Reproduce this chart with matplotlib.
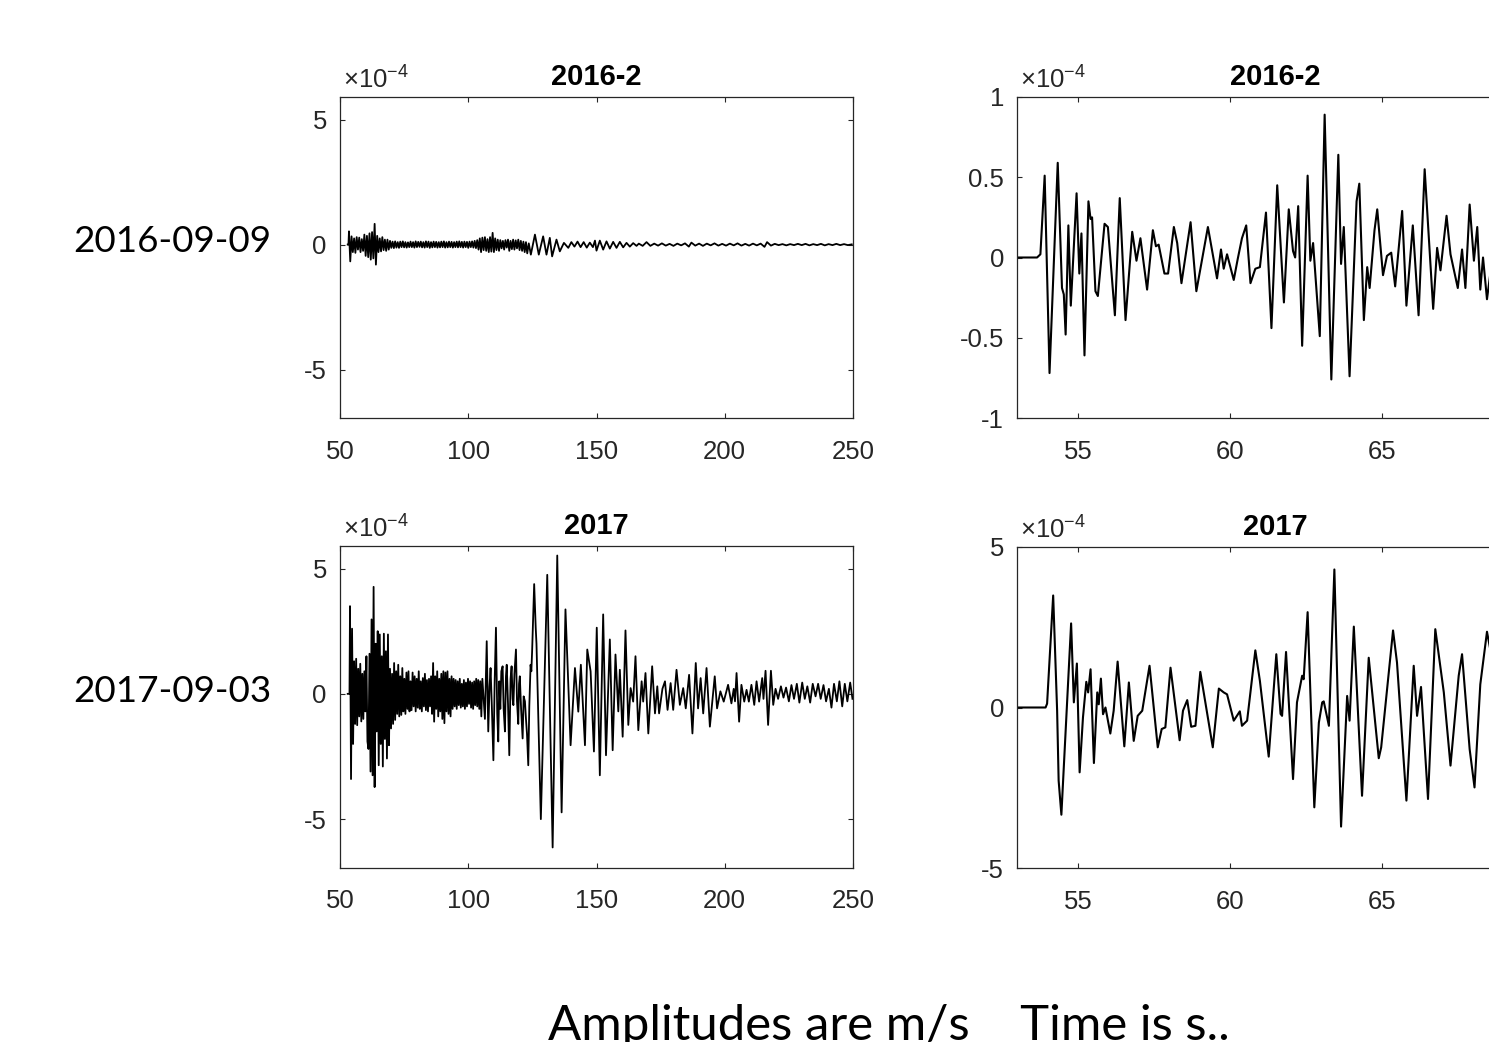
import numpy as np
import matplotlib
matplotlib.use('Agg')
import matplotlib.pyplot as plt
from matplotlib.ticker import FuncFormatter

# ---------------- data (amplitude in 1e-4 m/s, time in s) ----------------
row_labels = ["2016-09-09", "2017-09-03"]
titles = ["2016-2", "2017"]
footer = "Amplitudes are m/s    Time is s.."

# 2016-09-09, whole record: evenly sampled dense part (0.5 s from 53.5 s)
w16_dense_t0 = 53.5
w16_dense_dt = 0.5
w16_dense = [
    0.53, -0.67, 0.33, -0.30, 0.25, -0.33, 0.30, -0.20, 0.28, -0.30,
    0.22, -0.25, 0.40, -0.45, 0.35, -0.50, 0.45, -0.60, 0.50, -0.55,
    0.83, -0.80, 0.35, -0.30, 0.25, -0.27, 0.30, -0.22, 0.20, -0.25,
    0.20, -0.20, 0.15, -0.13, 0.12, -0.14, 0.13, -0.12, 0.10, -0.13,
    0.12, -0.10, 0.13, -0.11, 0.10, -0.12, 0.09, -0.10, 0.12, -0.10,
    0.10, -0.12, 0.13, -0.10, 0.11, -0.09, 0.12, -0.11, 0.10, -0.12,
    0.13, -0.10, 0.12, -0.13, 0.10, -0.11, 0.12, -0.10, 0.11, -0.12,
    0.10, -0.11, 0.12, -0.10, 0.13, -0.12, 0.10, -0.11, 0.12, -0.10,
    0.11, -0.12, 0.10, -0.10, 0.12, -0.11, 0.13, -0.10, 0.11, -0.12,
    0.12, -0.10, 0.11, -0.13, 0.12, -0.10, 0.13, -0.12, 0.15, -0.14,
    0.18, -0.20, 0.25, -0.30, 0.28, -0.22, 0.30, -0.25, 0.22, -0.30,
    0.30, -0.28, 0.47, -0.30, 0.25, -0.22, 0.20, -0.25, 0.18, -0.15,
    0.15, -0.20, 0.18, -0.12, 0.20, -0.25, 0.15, -0.18, 0.20, -0.20,
    0.17, -0.15, 0.20, -0.22, 0.15, -0.25, 0.12, -0.30, 0.10, -0.35,
]
w16_tail_t = [
    123.6, 124.4, 126.0, 127.5, 129.2, 130.5, 131.8, 132.7, 134.4, 135.7,
    137.3, 139.0, 140.2, 141.4, 142.6, 143.8, 145.0, 146.2, 147.4, 148.6,
    149.4, 150.0, 151.3, 152.6, 153.9, 155.2, 156.5, 157.8, 159.1, 160.4,
    161.7, 163.0, 164.3, 165.6, 166.5, 168.0, 169.5, 171.0, 172.5, 174.0,
    175.5, 177.0, 178.5, 180.0, 181.5, 183.0, 184.5, 186.0, 187.0, 188.5,
    190.0, 191.5, 193.0, 194.5, 196.0, 197.5, 199.0, 200.5, 202.0, 203.5,
    205.0, 206.5, 208.0, 209.5, 211.0, 212.5, 214.0, 215.5, 216.5, 218.0,
    219.5, 221.0, 222.5, 224.0, 225.5, 227.0, 228.5, 230.0, 231.5, 233.0,
    234.5, 236.0, 237.5, 239.0, 240.5, 242.0, 243.5, 245.0, 246.5, 248.0,
    249.5,
]
w16_tail_v = [
    0.05, -0.40, 0.40, -0.40, 0.33, -0.40, 0.27, -0.47, 0.20, -0.27,
    0.07, -0.13, 0.10, -0.08, 0.12, -0.10, 0.10, -0.12, 0.08, -0.10,
    0.16, -0.24, 0.16, -0.20, 0.13, -0.16, 0.11, -0.13, 0.11, -0.11,
    0.07, -0.08, 0.06, -0.05, 0.04, -0.05, 0.10, -0.05, 0.04, -0.04,
    0.05, -0.04, 0.03, -0.05, 0.04, -0.03, 0.05, -0.08, 0.08, -0.04,
    0.04, -0.05, 0.04, -0.03, 0.05, -0.04, 0.03, -0.04, 0.04, -0.03,
    0.05, -0.04, 0.03, -0.04, 0.04, -0.03, 0.04, -0.09, 0.10, -0.04,
    0.03, -0.02, 0.02, -0.03, 0.02, -0.02, 0.03, -0.02, 0.03, -0.03,
    0.02, -0.02, 0.03, -0.03, 0.02, -0.02, 0.03, -0.02, 0.02, -0.02,
    0.01,
]

# 2017-09-03, whole record: evenly sampled dense part (0.4 s from 53.9 s)
w17_dense_t0 = 53.9
w17_dense_dt = 0.4
w17_dense = [
    3.50, -3.40, 2.60, -2.00, 1.30, -1.20, 1.40, -1.25, 1.00, -0.90,
    1.20, -1.10, 0.80, -1.00, 0.90, -0.70, 1.50, -1.90, -2.20, 1.60,
    -3.10, 2.97, -3.25, 4.27, -3.72, 2.00, -1.50, 2.50, -2.85, 2.37,
    -2.00, 1.50, -2.90, 2.40, -1.80, 1.70, -2.58, 2.37, -2.05, 1.00,
    -1.38, 0.80, -1.20, 1.23, -1.04, 0.90, -0.80, 1.16, -0.90, 0.70,
    -0.84, 1.03, -0.70, 0.60, -0.80, 0.85, -0.60, 0.90, -0.70, 0.50,
    -0.65, 0.85, -0.50, 0.70, -0.70, 0.60, -0.55, 0.90, -0.60, 0.50,
    -0.70, 0.63, -0.50, 0.80, -0.65, 0.55, -0.70, 0.60, -0.50, 0.70,
    -0.80, 1.23, -1.11, 0.70, -0.60, 0.90, -0.90, 0.60, -0.70, 0.80,
    -1.00, 0.90, -1.17, 0.85, -0.70, 0.90, -0.80, 0.60, -0.90, 0.70,
    -0.60, 0.60, -0.50, 0.55, -0.60, 0.50, -0.45, 0.60, -0.55, 0.40,
    -0.50, 0.55, -0.60, 0.45, -0.50, 0.60, -0.40, 0.50, -0.55, 0.45,
    -0.60, 0.50, -0.45, 0.60, -0.50, 0.55, -0.60, 0.50, -0.90, 0.60,
]
w17_tail_t = [
    106.5, 107.2, 107.8, 108.3, 108.7, 109.2, 109.8, 110.3, 110.8, 111.3,
    111.7, 112.1, 112.5, 112.9, 113.4, 113.8, 114.3, 114.7, 115.0, 115.5,
    116.0, 116.5, 116.9, 117.3, 117.6, 118.0, 118.6, 119.0, 119.5, 119.8,
    120.1, 120.6, 121.2, 121.6, 122.1, 122.5, 122.9, 123.4, 123.8, 124.3,
    124.6, 124.9, 125.7, 126.3, 126.6, 128.3, 130.8, 132.9, 134.7, 136.4,
    137.9, 139.9, 141.6, 142.9, 143.9, 145.5, 146.4, 147.7, 149.0, 150.1,
    151.3, 152.6, 153.7, 155.2, 156.3, 157.4, 158.5, 159.1, 160.2, 161.3,
    162.4, 163.3, 164.3, 165.2, 166.3, 167.6, 168.2, 169.1, 170.2, 171.7,
    172.8, 173.7, 174.4, 175.7, 176.7, 177.7, 178.9, 179.9, 181.2, 182.5,
    183.8, 184.8, 186.1, 187.4, 188.7, 189.6, 190.6, 191.6, 192.9, 194.2,
    196.1, 197.0, 198.3, 199.6, 201.3, 202.6, 203.5, 204.0, 204.6, 205.6,
    206.5, 207.6, 208.5, 209.4, 210.4, 211.5, 212.4, 213.4, 214.6, 215.1,
    215.9, 216.9, 218.0, 218.9, 219.8, 220.8, 221.9, 222.9, 223.9, 225.0,
    226.0, 227.0, 228.1, 229.1, 230.2, 231.2, 232.2, 233.3, 234.3, 235.4,
    236.4, 237.4, 238.5, 239.5, 240.6, 241.6, 242.6, 243.7, 244.7, 245.8,
    246.8, 247.8, 248.9, 249.8,
]
w17_tail_v = [
    -1.00, 2.10, -1.50, 0.30, 1.03, -0.50, -2.65, 0.50, 2.64, -0.80,
    -1.90, 0.50, -0.60, 0.90, 1.10, -0.60, -1.50, 0.70, 1.16, -0.40,
    -2.45, 0.60, 1.10, -0.20, -0.45, 0.80, 1.77, -0.30, -1.20, 0.40,
    0.70, -0.60, -1.78, -0.10, -0.30, -1.00, -1.60, -2.85, -0.50, 1.16,
    0.90, 1.70, 4.38, 2.64, 2.00, -5.00, 4.75, -6.13, 5.52, -4.73,
    3.37, -2.05, 1.03, -0.71, 1.16, -2.05, 1.77, 0.90, -2.30, 2.64,
    -3.25, 3.17, -2.45, 2.17, -2.25, 1.57, -0.70, 0.96, -1.71, 2.53,
    -1.24, 0.23, -0.31, 1.50, -1.45, 0.50, -0.31, 0.83, -1.58, 1.10,
    -0.78, 0.30, -0.78, 0.20, 0.50, -0.64, 0.43, -0.64, 0.96, -0.44,
    0.23, -0.58, 0.76, -1.58, 1.23, -0.58, 0.63, -0.78, 1.03, -1.31,
    0.70, -0.58, 0.10, -0.31, 0.36, -0.38, 0.20, -0.30, 0.83, -1.11,
    0.36, -0.31, 0.16, -0.31, 0.36, -0.44, 0.50, -0.31, 0.63, -0.20,
    0.92, -1.24, 0.92, -0.44, 0.20, -0.20, 0.30, -0.15, 0.25, -0.30,
    0.35, -0.20, 0.40, -0.35, 0.45, -0.20, 0.30, -0.35, 0.40, -0.10,
    0.40, -0.20, 0.35, -0.30, 0.20, -0.55, 0.40, -0.30, 0.50, -0.50,
    0.40, -0.30, 0.45, -0.20,
]

# zoomed windows (53-70 s)
z16_t = [
    53.02, 53.65, 53.76, 53.90, 54.06, 54.33, 54.47, 54.53, 54.59, 54.68,
    54.76, 54.95, 55.04, 55.11, 55.21, 55.34, 55.41, 55.46, 55.57, 55.65,
    55.87, 55.98, 56.21, 56.37, 56.56, 56.78, 56.92, 57.05, 57.27, 57.46,
    57.56, 57.65, 57.84, 57.96, 58.15, 58.26, 58.40, 58.70, 58.89, 59.27,
    59.57, 59.70, 59.79, 59.90, 60.12, 60.25, 60.39, 60.53, 60.67, 60.83,
    60.98, 61.18, 61.36, 61.55, 61.77, 61.93, 62.07, 62.14, 62.24, 62.37,
    62.55, 62.64, 62.73, 62.95, 63.11, 63.33, 63.56, 63.65, 63.74, 63.93,
    64.16, 64.25, 64.40, 64.51, 64.59, 64.75, 64.84, 65.03, 65.16, 65.30,
    65.43, 65.66, 65.80, 66.01, 66.20, 66.40, 66.68, 66.81, 66.92, 67.12,
    67.25, 67.49, 67.63, 67.74, 67.88, 68.02, 68.13, 68.23, 68.32, 68.45,
    68.56,
]
z16_v = [
    0.00, 0.00, 0.02, 0.51, -0.72, 0.59, -0.19, -0.23, -0.48, 0.20,
    -0.30, 0.40, -0.10, 0.15, -0.61, 0.35, 0.24, 0.25, -0.21, -0.24,
    0.21, 0.19, -0.36, 0.37, -0.39, 0.16, -0.02, 0.12, -0.20, 0.17,
    0.07, 0.08, -0.10, -0.10, 0.19, 0.09, -0.16, 0.22, -0.21, 0.19,
    -0.13, 0.05, -0.07, 0.02, -0.14, -0.01, 0.12, 0.20, -0.16, -0.07,
    -0.06, 0.28, -0.44, 0.45, -0.28, 0.30, 0.04, 0.00, 0.32, -0.55,
    0.51, -0.02, 0.09, -0.49, 0.89, -0.76, 0.64, -0.04, 0.19, -0.74,
    0.35, 0.46, -0.39, -0.06, -0.19, 0.17, 0.30, -0.11, 0.01, 0.03,
    -0.18, 0.29, -0.30, 0.20, -0.36, 0.55, -0.32, 0.06, -0.08, 0.26,
    0.02, -0.19, 0.05, -0.19, 0.33, -0.02, 0.19, -0.20, 0.00, -0.26,
    -0.10,
]
z17_t = [
    53.02, 53.93, 53.98, 54.18, 54.31, 54.36, 54.45, 54.77, 54.86, 54.96,
    55.05, 55.16, 55.27, 55.33, 55.41, 55.52, 55.63, 55.68, 55.75, 55.82,
    55.90, 56.06, 56.17, 56.30, 56.52, 56.67, 56.83, 56.96, 57.11, 57.35,
    57.62, 57.75, 57.87, 58.04, 58.34, 58.45, 58.59, 58.72, 58.86, 59.02,
    59.43, 59.63, 59.79, 59.90, 60.12, 60.32, 60.39, 60.56, 60.83, 60.98,
    61.27, 61.52, 61.66, 61.71, 61.84, 62.07, 62.20, 62.37, 62.42, 62.55,
    62.77, 62.92, 63.03, 63.08, 63.25, 63.43, 63.65, 63.85, 63.93, 64.07,
    64.34, 64.56, 64.89, 64.97, 65.36, 65.49, 65.80, 66.04, 66.15, 66.28,
    66.51, 66.75, 67.03, 67.25, 67.52, 67.63, 67.88, 68.04, 68.23, 68.45,
    68.56,
]
z17_v = [
    0.00, 0.00, 0.12, 3.49, -0.10, -2.28, -3.34, 2.62, 0.16, 1.37,
    -2.02, -0.31, 0.80, 0.47, 1.19, -1.73, 0.47, 0.10, 0.90, -0.21,
    0.00, -0.81, -0.10, 1.43, -1.21, 0.78, -1.04, -0.26, -0.10, 1.30,
    -1.24, -0.67, -0.62, 1.24, -1.02, -0.10, 0.23, -0.60, -0.57, 1.11,
    -1.24, 0.59, 0.47, 0.41, -0.41, -0.12, -0.57, -0.41, 1.78, 0.83,
    -1.53, 1.66, -0.20, -0.26, 1.73, -2.23, 0.16, 0.99, 0.88, 2.97,
    -3.11, -0.47, 0.16, 0.19, -0.57, 4.30, -3.71, 0.36, -0.41, 2.52,
    -2.75, 1.55, -1.58, -1.24, 2.40, 1.40, -2.90, 1.30, -0.26, 0.64,
    -2.85, 2.44, 0.47, -1.81, 0.99, 1.66, -1.30, -2.49, 0.72, 2.36,
    1.80,
]

full_xticks = [50, 100, 150, 200, 250]
full_yticks = [-5, 0, 5]
zoom_xticks = [55, 60, 65]
zoom16_yticks = [-1, -0.5, 0, 0.5, 1]
zoom17_yticks = [-5, 0, 5]

# ---------------- build series ----------------
def full_series(t0, dt, dense, tail_t, tail_v):
    t_dense = t0 + dt * np.arange(len(dense))
    t = np.concatenate([[53.0, t0 - 0.2], t_dense, tail_t])
    v = np.concatenate([[0.0, 0.0], dense, tail_v])
    return t, v

t16, v16 = full_series(w16_dense_t0, w16_dense_dt, w16_dense, w16_tail_t, w16_tail_v)
t17, v17 = full_series(w17_dense_t0, w17_dense_dt, w17_dense, w17_tail_t, w17_tail_v)

# ---------------- style ----------------
plt.rcParams['font.family'] = 'Liberation Sans'
plt.rcParams['axes.unicode_minus'] = False
plt.rcParams['mathtext.fontset'] = 'custom'
plt.rcParams['mathtext.rm'] = 'Liberation Sans'
plt.rcParams['mathtext.it'] = 'Liberation Sans:italic'
plt.rcParams['mathtext.bf'] = 'Liberation Sans:bold'

W, H = 1489, 1042
fig = plt.figure(figsize=(W / 100, H / 100), dpi=100)
GRAY = '#262626'


def px_axes(left, top, right, bottom):
    return fig.add_axes([left / W, 1 - bottom / H, (right - left) / W, (bottom - top) / H])


def style(ax, xlim, ylim, xticks, yticks, title):
    ax.set_xlim(*xlim)
    ax.set_ylim(*ylim)
    ax.set_xticks(xticks)
    ax.set_yticks(yticks)
    fmt = FuncFormatter(lambda v, p: f'{v:g}')
    ax.xaxis.set_major_formatter(fmt)
    ax.yaxis.set_major_formatter(fmt)
    ax.tick_params(direction='in', length=3.8, width=0.8, color=GRAY,
                   labelcolor=GRAY, labelsize=18.5, top=True, right=True)
    ax.tick_params(axis='x', pad=15.5)
    ax.tick_params(axis='y', pad=9.5)
    for s in ax.spines.values():
        s.set_color(GRAY)
        s.set_linewidth(0.9)
    ax.set_title(title, fontsize=21, fontweight='bold', pad=8.6, color='black')
    bbox = ax.get_position()
    hpx = bbox.height * H
    ax.text(0.006, 1 + 8.7 / hpx, r'$\times\mathregular{10^{-4}}$', transform=ax.transAxes,
            fontsize=18.5, color=GRAY, ha='left', va='baseline')


ylim_full = (-6.93, 5.9)
rx0 = 1017.3
rx1 = rx0 + 17 * 30.4

ax_tl = px_axes(340, 97, 853, 418)
ax_bl = px_axes(340, 546, 853, 867.5)
ax_tr = px_axes(rx0, 97, rx1, 418)
ax_br = px_axes(rx0, 547, rx1, 868)

ax_tl.plot(t16, v16, color='black', lw=1.3, solid_joinstyle='round')
ax_bl.plot(t17, v17, color='black', lw=1.3, solid_joinstyle='round')
ax_tr.plot(z16_t, z16_v, color='black', lw=1.5, solid_joinstyle='round')
ax_br.plot(z17_t, z17_v, color='black', lw=1.5, solid_joinstyle='round')

style(ax_tl, (50, 250), ylim_full, full_xticks, full_yticks, titles[0])
style(ax_bl, (50, 250), ylim_full, full_xticks, full_yticks, titles[1])
style(ax_tr, (53, 70), (-1, 1), zoom_xticks, zoom16_yticks, titles[0])
style(ax_br, (53, 70), (-5, 5), zoom_xticks, zoom17_yticks, titles[1])

fig.text(172.5 / W, 1 - 252 / H, row_labels[0], family='Lato', fontsize=26.6,
         ha='center', va='baseline', color='black')
fig.text(172.5 / W, 1 - 702 / H, row_labels[1], family='Lato', fontsize=26.6,
         ha='center', va='baseline', color='black')
fig.text(889 / W, 1 - 1040 / H, footer, family='Lato', fontsize=35.4,
         ha='center', va='baseline', color='black')

fig.savefig('out.png', dpi=100)
